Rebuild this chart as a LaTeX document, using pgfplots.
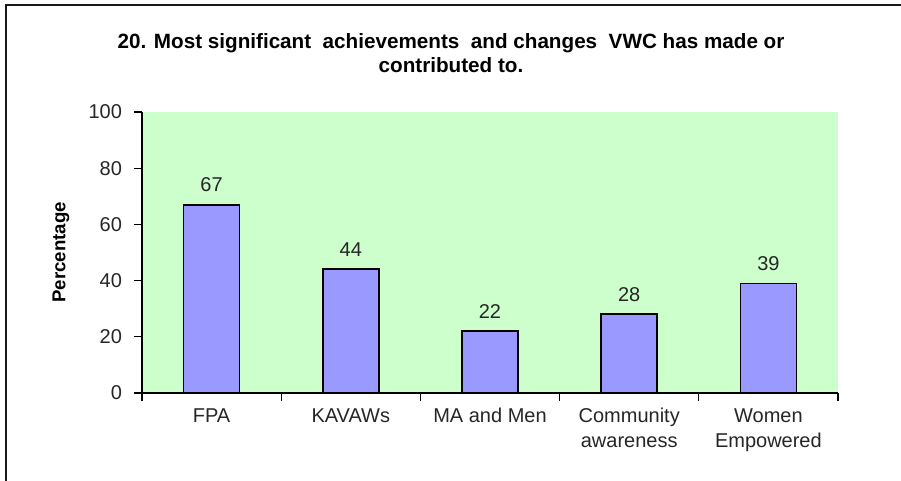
\documentclass[border=0pt]{standalone}
\usepackage{pgfplots}
\pgfplotsset{compat=1.18}
\usepackage{fontspec}
\setmainfont{Liberation Sans}
\definecolor{bgGreen}{HTML}{CCFFCC}
\definecolor{barBlue}{HTML}{9999FF}
\begin{document}
\begin{tikzpicture}[x=0.75pt,y=0.75pt]
\useasboundingbox (0,0) rectangle (901,481);
\draw[line width=1.3pt, black!90] (6,0) -- (6,476) -- (901,476);
\node[anchor=north, align=center, inner sep=0pt, font=\fontsize{15.5}{18}\selectfont\bfseries]
  at (451,448) {20. Most significant\ \ achievements\ \ and changes\ \ VWC has made or\\contributed to.};
\begin{axis}[
  at={(106.5pt,66pt)}, anchor=south west,
  scale only axis,
  width=522pt, height=210.75pt,
  xmin=-0.5, xmax=4.5,
  ymin=0, ymax=100,
  ytick={0,20,...,100},
  xtick={-0.5,0.5,...,4.5},
  xticklabels={},
  extra x ticks={0,1,2,3,4},
  extra x tick labels={FPA,KAVAWs,MA and Men,Community\\awareness,Women\\Empowered},
  extra x tick style={major tick length=0pt, xticklabel style={align=center}},
  major tick length=6pt,
  tick align=outside,
  axis x line*=bottom,
  axis y line*=left,
  axis line style={line width=0.8pt, black},
  tick style={line width=0.8pt, black},
  axis background/.style={fill=bgGreen},
  /pgf/number format/assume math mode=true,
  tick label style={font=\fontsize{15}{18.75}\selectfont, text=black!85},
  xticklabel style={align=center, yshift=-8pt},
  yticklabel style={xshift=-5.5pt},
  ylabel={Percentage},
  every axis y label/.style={at={(ticklabel cs:0.5,7.5pt)}, rotate=90, anchor=south,
     font=\fontsize{14}{17}\selectfont\bfseries},
  bar width=42pt,
  nodes near coords,
  nodes near coords style={font=\fontsize{15}{17}\selectfont, text=black!85, anchor=south, inner sep=0pt, yshift=9pt},
  clip=false,
]
\addplot[ybar, fill=barBlue, draw=black, line width=1.3pt] coordinates {(0,67) (1,44) (2,22) (3,28) (4,39)};
\end{axis}
\end{tikzpicture}
\end{document}
